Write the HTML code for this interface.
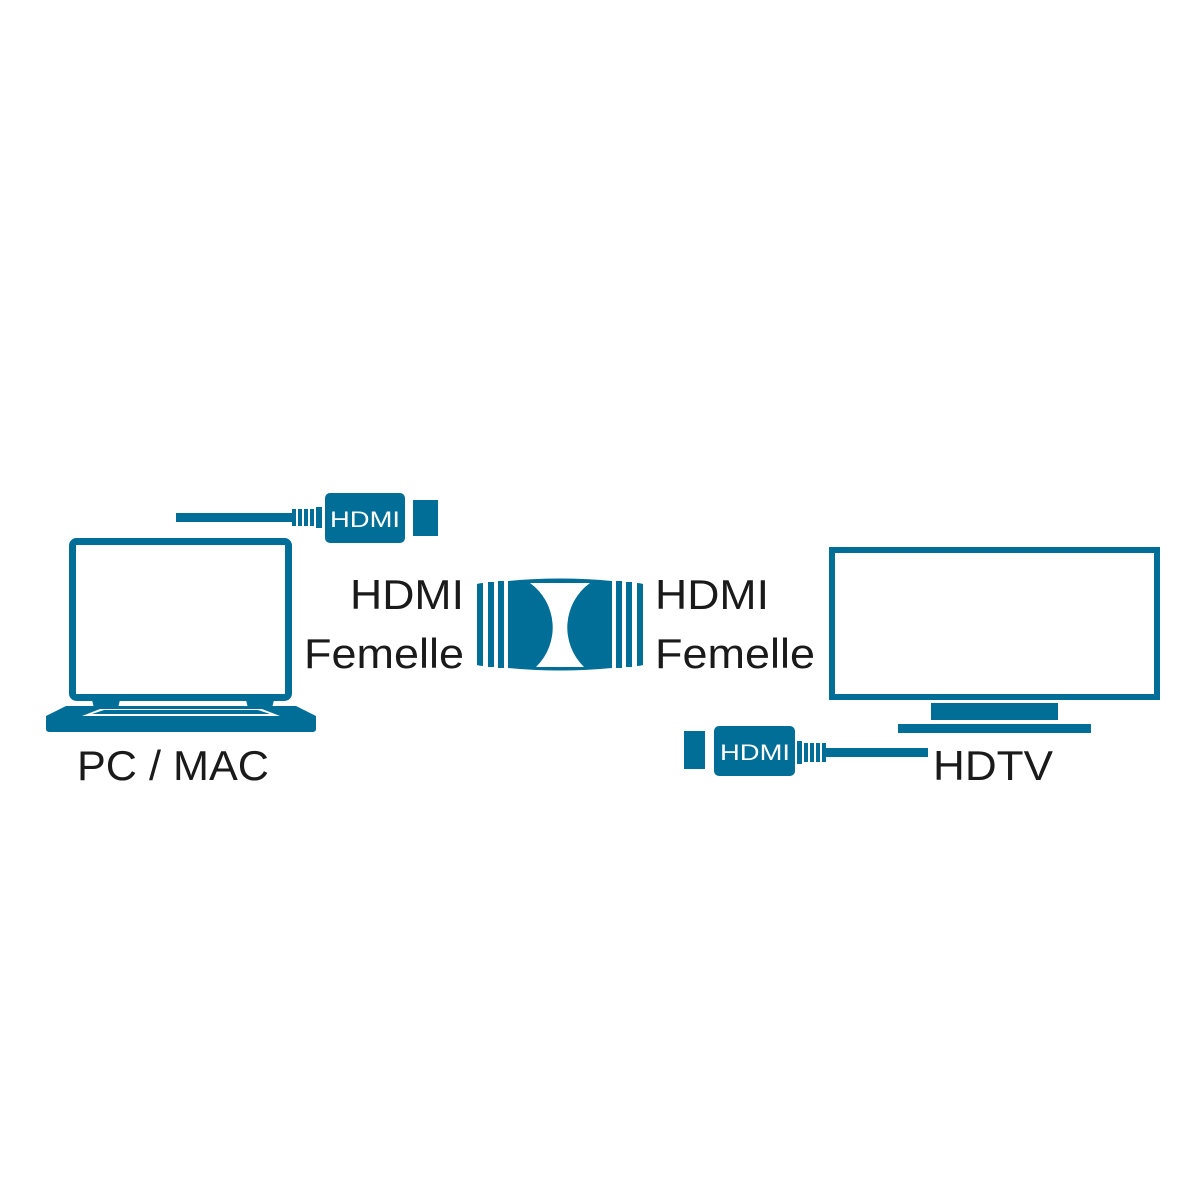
<!DOCTYPE html>
<html><head><meta charset="utf-8"><style>html,body{margin:0;padding:0;background:#fff}svg{display:block}</style></head>
<body>
<svg width="1181" height="1181" viewBox="0 0 1181 1181" xmlns="http://www.w3.org/2000/svg">
<g fill="#006e96">
<rect x="72.5" y="541.5" width="216" height="156" rx="4" fill="none" stroke="#006e96" stroke-width="7"/>
<path d="M92 700 H120 L118 708 H94 Z M246 700 H274 L272 708 H248 Z"/>
<path d="M66 706 H296 L316 716 V729 Q316 732 312 732 H50 Q46 732 46 729 V716 Z"/>
<path d="M100 709 H262 L280 716 H82 Z" fill="#fff"/>
<path d="M104 710 H258 L270 714 H92 Z"/>
<rect x="176" y="513" width="118" height="9"/>
<rect x="292" y="509" width="4" height="17"/><rect x="298" y="509" width="4" height="17"/>
<rect x="304" y="509" width="4" height="17"/><rect x="310" y="509" width="4" height="17"/>
<rect x="316" y="507" width="6" height="21"/>
<rect x="325" y="493" width="80" height="50" rx="5"/>
<rect x="413" y="500" width="25" height="36"/>
<text x="365" y="527" font-family="Liberation Sans, sans-serif" font-size="22" fill="#fff" text-anchor="middle" textLength="70" lengthAdjust="spacingAndGlyphs">HDMI</text>
<path d="M477 584 Q480 583 483 583 V666 Q480 666 477 665 Z"/>
<rect x="488" y="582" width="6" height="85"/>
<rect x="498" y="581" width="6" height="87"/>
<path d="M508 581 Q560 576 612 581 V668 Q560 673 508 668 Z"/>
<rect x="616" y="581" width="6" height="87"/>
<rect x="626" y="582" width="6" height="85"/>
<path d="M637 583 Q640 583 643 584 V665 Q640 666 637 666 Z"/>
<path d="M530 583 H590 A55 55 0 0 0 584 667 H536 A55 55 0 0 0 530 583 Z" fill="#fff"/>
<rect x="832" y="550" width="325" height="147" fill="none" stroke="#006e96" stroke-width="6"/>
<rect x="931" y="703" width="127" height="17"/>
<rect x="898" y="724" width="193" height="9"/>
<rect x="684" y="731" width="21" height="38"/>
<rect x="714" y="726" width="81" height="50" rx="5"/>
<rect x="797" y="741" width="5" height="23"/><rect x="804" y="743" width="4" height="19"/>
<rect x="810" y="743" width="4" height="19"/><rect x="816" y="743" width="4" height="19"/>
<rect x="822" y="743" width="4" height="19"/>
<rect x="826" y="748" width="102" height="9"/>
<text x="755" y="760" font-family="Liberation Sans, sans-serif" font-size="22" fill="#fff" text-anchor="middle" textLength="70" lengthAdjust="spacingAndGlyphs">HDMI</text>
</g>
<g font-family="Liberation Sans, sans-serif" font-size="42" fill="#1a1a1a">
<text x="464" y="609" text-anchor="end" textLength="114" lengthAdjust="spacingAndGlyphs">HDMI</text>
<text x="464" y="668" text-anchor="end" textLength="160" lengthAdjust="spacingAndGlyphs">Femelle</text>
<text x="655" y="609" textLength="114" lengthAdjust="spacingAndGlyphs">HDMI</text>
<text x="655" y="668" textLength="160" lengthAdjust="spacingAndGlyphs">Femelle</text>
<text x="77" y="780" textLength="192" lengthAdjust="spacingAndGlyphs">PC / MAC</text>
<text x="933" y="780" textLength="120" lengthAdjust="spacingAndGlyphs">HDTV</text>
</g>
</svg>
</body></html>
